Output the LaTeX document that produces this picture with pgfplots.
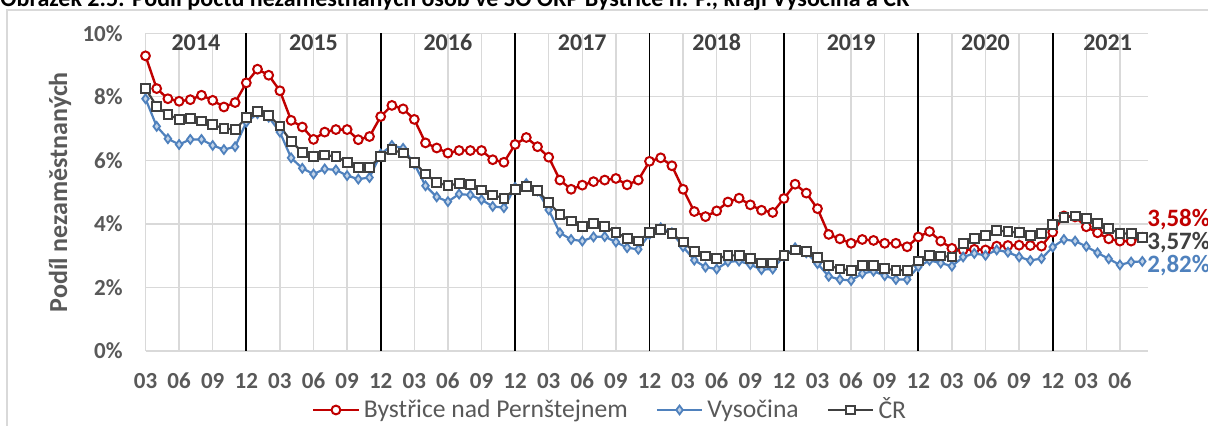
\documentclass[border=0pt]{standalone}
\usepackage{fontspec}
\setmainfont{Carlito}
\usepackage{pgfplots}
\usepackage{pgfplotstable}
\pgfplotsset{compat=1.18}

\definecolor{cred}{HTML}{C00000}
\definecolor{cblue}{HTML}{4F81BD}
\definecolor{cgray}{HTML}{404040}
\definecolor{ctick}{HTML}{595959}
\definecolor{cgrid}{HTML}{D9D9D9}

% mesic (0 = 03/2014), Bystrice n. P., Vysocina, CR (v %)
\pgfplotstableread{
i  byst vys  cr
0  9.29 7.94 8.26
1  8.26 7.07 7.70
2  7.94 6.68 7.44
3  7.86 6.50 7.29
4  7.91 6.66 7.33
5  8.05 6.66 7.24
6  7.89 6.47 7.12
7  7.68 6.34 7.01
8  7.82 6.43 6.97
9  8.44 7.20 7.34
10 8.87 7.47 7.54
11 8.68 7.36 7.42
12 8.19 6.89 7.08
13 7.26 6.08 6.60
14 7.05 5.75 6.26
15 6.66 5.57 6.12
16 6.89 5.73 6.17
17 6.97 5.70 6.12
18 6.97 5.52 5.94
19 6.65 5.41 5.78
20 6.75 5.46 5.78
21 7.38 6.20 6.12
22 7.73 6.47 6.33
23 7.62 6.38 6.23
24 7.29 5.89 5.94
25 6.55 5.20 5.57
26 6.39 4.85 5.31
27 6.23 4.70 5.20
28 6.31 4.94 5.28
29 6.31 4.91 5.25
30 6.31 4.76 5.07
31 6.02 4.55 4.91
32 5.94 4.51 4.81
33 6.50 5.15 5.09
34 6.72 5.27 5.19
35 6.43 5.04 5.04
36 6.10 4.44 4.67
37 5.38 3.72 4.30
38 5.09 3.51 4.09
39 5.22 3.46 3.91
40 5.33 3.59 4.01
41 5.38 3.60 3.91
42 5.43 3.43 3.74
43 5.23 3.25 3.54
44 5.38 3.20 3.46
45 5.97 3.67 3.72
46 6.08 3.88 3.83
47 5.83 3.72 3.69
48 5.09 3.28 3.43
49 4.39 2.86 3.12
50 4.23 2.64 2.99
51 4.41 2.58 2.90
52 4.69 2.81 3.01
53 4.81 2.83 3.01
54 4.60 2.72 2.90
55 4.43 2.56 2.77
56 4.36 2.58 2.77
57 4.80 2.99 3.01
58 5.25 3.25 3.18
59 4.97 3.09 3.14
60 4.48 2.75 2.95
61 3.67 2.35 2.69
62 3.53 2.25 2.58
63 3.39 2.22 2.54
64 3.51 2.44 2.69
65 3.48 2.51 2.70
66 3.39 2.37 2.59
67 3.39 2.25 2.54
68 3.28 2.25 2.54
69 3.59 2.65 2.83
70 3.76 2.85 3.01
71 3.46 2.77 2.99
72 3.23 2.67 2.96
73 3.18 2.96 3.39
74 3.20 3.07 3.53
75 3.18 3.01 3.64
76 3.30 3.18 3.80
77 3.32 3.11 3.76
78 3.33 2.96 3.72
79 3.32 2.85 3.64
80 3.30 2.91 3.69
81 3.74 3.27 3.99
82 4.25 3.51 4.20
83 4.22 3.46 4.25
84 3.91 3.29 4.17
85 3.72 3.09 4.02
86 3.53 2.90 3.85
87 3.46 2.71 3.70
88 3.46 2.80 3.70
89 3.58 2.82 3.57
}\nezam

\begin{document}
\begin{tikzpicture}[year/.style={font=\bfseries\fontsize{12}{14}\selectfont, text=cgray},
  endlab/.style={anchor=west, inner sep=0pt, font=\bfseries\fontsize{12.5}{14}\selectfont}]
\useasboundingbox (0,0) rectangle (604pt,213pt);
\fill[white] (0,0) rectangle (604pt,213pt);
\draw[cgrid, line width=0.75pt] (3.5pt,-10pt) rectangle (620pt,208pt);
\node[anchor=base west, inner sep=0pt, font=\bfseries\fontsize{12}{14}\selectfont]
  at (0pt,209.5pt) {Obrázek 2.5: Podíl počtu nezaměstnaných osob ve SO ORP Bystřice n. P., kraji Vysočina a ČR};

\begin{axis}[
  at={(72.75pt,37.5pt)}, anchor=south west,
  scale only axis, width=501.2pt, height=158.85pt,
  xmin=0, xmax=89.5, ymin=0, ymax=10,
  clip=false,
  axis line style={draw=none},
  major tick length=0pt,
  xtick={0,3,...,87},
  xticklabels={03,06,09,12,03,06,09,12,03,06,09,12,03,06,09,12,03,06,09,12,03,06,09,12,03,06,09,12,03,06},
  ytick={0,2,...,10},
  yticklabels={0\%,2\%,4\%,6\%,8\%,10\%},
  grid=major,
  major grid style={cgrid, line width=0.65pt},
  ticklabel style={font=\bfseries\fontsize{11.5}{13}\selectfont, text=ctick, inner sep=0pt},
  xticklabel style={anchor=base, yshift=-18.8pt},
  yticklabel style={anchor=east, xshift=-11.25pt},
  ylabel={Podíl nezaměstnaných},
  ylabel style={at={(axis description cs:-0.0853,0.5)}, anchor=center,
    font=\bfseries\fontsize{13}{15}\selectfont, text=ctick},
  legend columns=3,
  legend style={at={(axis description cs:0.4644,-0.1857)}, anchor=center,
    draw=none, fill=none, font=\fontsize{12.8}{15}\selectfont, text=ctick,
    /tikz/every even column/.append style={column sep=12pt}},
  legend image code/.code={\draw[mark repeat=2,mark phase=2] plot coordinates {(0cm,0cm) (0.4cm,0cm) (0.8cm,0cm)};},
]
\pgfplotsinvokeforeach{9,21,33,45,57,69,81}{
  \draw[black, line width=0.9pt] (axis cs:#1,0) -- (axis cs:#1,10);
}
\addplot[cred, line width=1.2pt, mark=*, mark size=2.2pt,
  mark options={fill=white, draw=cred, line width=1pt}]
  table[x=i, y=byst] {\nezam};
\addlegendentry{Bystřice nad Pernštejnem}
\addplot[cblue, line width=1.1pt, mark=diamond*, mark size=2.2pt,
  mark options={fill=cblue!35!white, draw=cblue, line width=0.9pt}]
  table[x=i, y=vys] {\nezam};
\addlegendentry{Vysočina}
\addplot[cgray, line width=1.1pt, mark=square*, mark size=2.2pt,
  mark options={fill=white, draw=cgray, line width=1pt}]
  table[x=i, y=cr] {\nezam};
\addlegendentry{ČR}

\node[year] at (axis cs:4.5,9.71) {2014};
\node[year] at (axis cs:15,9.71) {2015};
\node[year] at (axis cs:27,9.71) {2016};
\node[year] at (axis cs:39,9.71) {2017};
\node[year] at (axis cs:51,9.71) {2018};
\node[year] at (axis cs:63,9.71) {2019};
\node[year] at (axis cs:75,9.71) {2020};
\node[year] at (axis cs:85.9,9.71) {2021};
\end{axis}

\node[endlab, text=cred] at (573.5pt,103.25pt) {3,58\%};
\node[endlab, text=cgray] at (573.5pt,91.5pt) {3,57\%};
\node[endlab, text=cblue] at (573.5pt,80pt) {2,82\%};
\end{tikzpicture}
\end{document}
